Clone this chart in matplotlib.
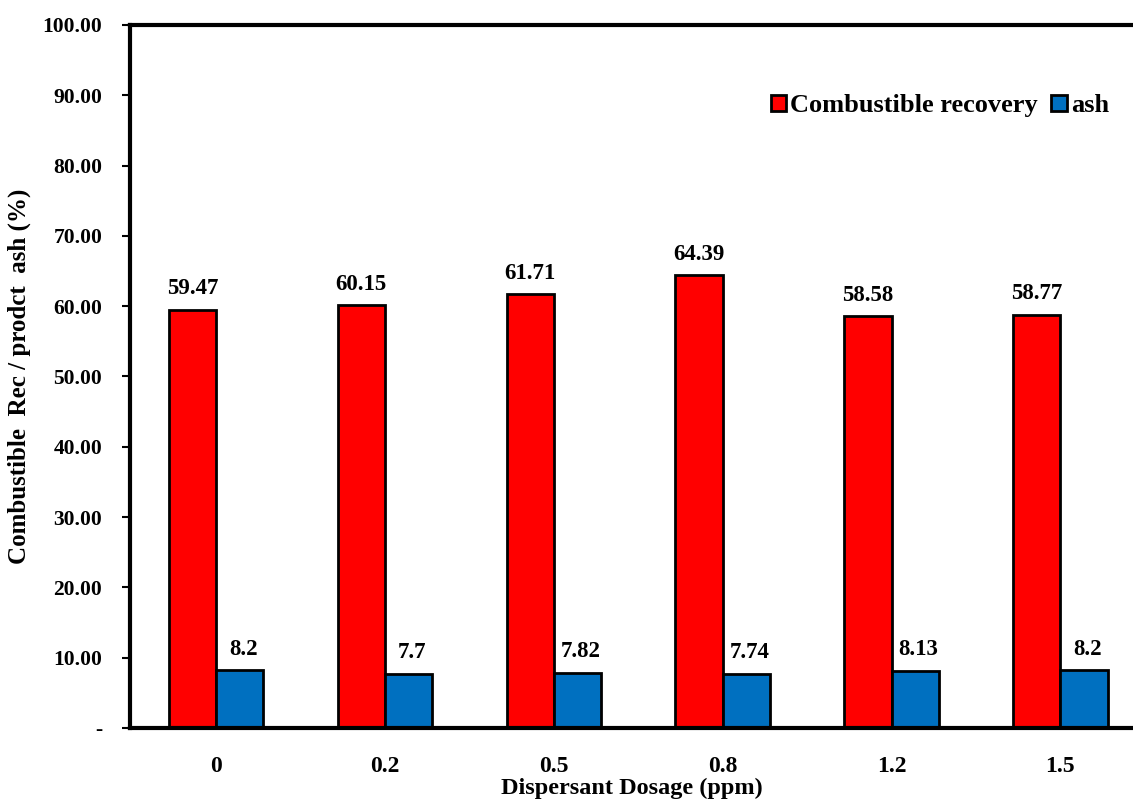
import matplotlib
matplotlib.use("Agg")
import matplotlib.pyplot as plt
import numpy as np

categories = ["0", "0.2", "0.5", "0.8", "1.2", "1.5"]
recovery = [59.47, 60.15, 61.71, 64.39, 58.58, 58.77]
ash = [8.2, 7.7, 7.82, 7.74, 8.13, 8.2]
rec_labels = ["59.47", "60.15", "61.71", "64.39", "58.58", "58.77"]
ash_labels = ["8.2", "7.7", "7.82", "7.74", "8.13", "8.2"]

plt.rcParams['font.family'] = ['Liberation Serif', 'DejaVu Serif']
plt.rcParams['font.weight'] = 'bold'

fig = plt.figure(figsize=(11.33, 8.05), dpi=100)
ax = fig.add_axes([0.1147, 0.0957, 0.8853, 0.8733])
x = np.arange(len(categories))
w = 0.28
ax.bar(x - w/2, recovery, w, color='#ff0000', edgecolor='black', linewidth=2, label='Combustible recovery')
ax.bar(x + w/2, ash, w, color='#0070c0', edgecolor='black', linewidth=2, label='ash')
for xi, v, t in zip(x, recovery, rec_labels):
    ax.text(xi - w/2, v + 1.5, t, ha='center', va='bottom', fontsize=16.5, fontweight='bold')
for xi, v, t in zip(x, ash, ash_labels):
    ax.text(xi + w/2 + 0.02, v + 1.5, t, ha='center', va='bottom', fontsize=16.5, fontweight='bold')

ax.set_xlim(-0.51, 5.43)
ax.set_ylim(0, 100)
ax.set_yticks(np.arange(0, 101, 10))
ax.set_yticklabels(['-'] + [f"{v:.2f}" for v in range(10, 101, 10)], fontsize=15.5, fontweight='bold')
ax.set_xticks(x)
ax.set_xticklabels(categories, fontsize=17, fontweight='bold')
ax.tick_params(axis='x', length=0, pad=20)
ax.tick_params(axis='y', direction='out', length=6, width=1.5, pad=14)
for s in ['left', 'top', 'bottom']:
    ax.spines[s].set_linewidth(3)
ax.spines['right'].set_visible(False)
ax.set_xlabel('Dispersant Dosage (ppm)', fontsize=17.5, fontweight='bold', labelpad=1)
ax.set_ylabel('Combustible  Rec / prodct  ash (%)', fontsize=18, fontweight='bold', labelpad=8)
ax.legend(loc='upper right', bbox_to_anchor=(1.0, 0.935), ncol=2, frameon=False,
          prop={'size': 19, 'weight': 'bold'}, handlelength=0.6, handleheight=0.6,
          columnspacing=0.5, handletextpad=0.15)
fig.savefig('out.png', dpi=100)
